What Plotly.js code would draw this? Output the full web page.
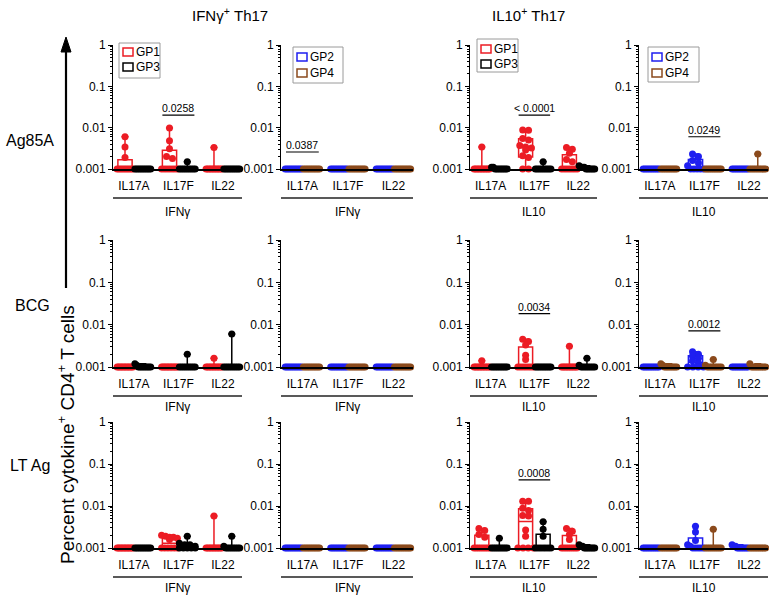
<!DOCTYPE html>
<html><head><meta charset="utf-8">
<script src="https://cdn.plot.ly/plotly-3.0.1.min.js"></script>
<style>html,body{margin:0;padding:0;background:#fff}#chart{width:769px;height:595px}</style>
</head><body><div id="chart"></div>
<script>
// ---------- DATA ----------
const categories = ['IL17A', 'IL17F', 'IL22'];
const stimuli = ['Ag85A', 'BCG', 'LT Ag'];
const columnTitles = ['IFNγ<sup>+</sup> Th17', 'IL10<sup>+</sup> Th17'];
const groupLabels = ['IFNγ', 'IFNγ', 'IL10', 'IL10'];
const yTickVals = [0.001, 0.01, 0.1, 1];
const yTickText = ['0.001', '0.01', '0.1', '1'];

// Ag85A
const ag85a_ifng_gp1 = [
  [0.006, 0.0034, 0.0019, 0.001, 0.001, 0.001, 0.001, 0.001, 0.001, 0.001, 0.001, 0.001],
  [0.0098, 0.0048, 0.0031, 0.002, 0.0018, 0.001, 0.001, 0.001, 0.001, 0.001, 0.001, 0.001],
  [0.0033, 0.001, 0.001, 0.001, 0.001, 0.001, 0.001, 0.001, 0.001, 0.001, 0.001, 0.001]
];
const ag85a_ifng_gp3 = [
  [0.001, 0.001, 0.001, 0.001, 0.001, 0.001, 0.001, 0.001, 0.001, 0.001],
  [0.0015, 0.001, 0.001, 0.001, 0.001, 0.001, 0.001, 0.001, 0.001, 0.001],
  [0.001, 0.001, 0.001, 0.001, 0.001, 0.001, 0.001, 0.001, 0.001, 0.001]
];
const ag85a_ifng_gp2 = [
  [0.001, 0.001, 0.001, 0.001, 0.001, 0.001, 0.001, 0.001, 0.001, 0.001],
  [0.001, 0.001, 0.001, 0.001, 0.001, 0.001, 0.001, 0.001, 0.001, 0.001],
  [0.001, 0.001, 0.001, 0.001, 0.001, 0.001, 0.001, 0.001, 0.001, 0.001]
];
const ag85a_ifng_gp4 = [
  [0.001, 0.001, 0.001, 0.001, 0.001, 0.001, 0.001, 0.001, 0.001, 0.001],
  [0.001, 0.001, 0.001, 0.001, 0.001, 0.001, 0.001, 0.001, 0.001, 0.001],
  [0.001, 0.001, 0.001, 0.001, 0.001, 0.001, 0.001, 0.001, 0.001, 0.001]
];
const ag85a_il10_gp1 = [
  [0.0034, 0.001, 0.001, 0.001, 0.001, 0.001, 0.001, 0.001, 0.001, 0.001, 0.001, 0.001],
  [0.0088, 0.0086, 0.0055, 0.005, 0.0037, 0.0034, 0.0032, 0.0029, 0.0021, 0.0019, 0.001, 0.001],
  [0.0033, 0.003, 0.0024, 0.0017, 0.0015, 0.001, 0.001, 0.001, 0.001, 0.001, 0.001, 0.001]
];
const ag85a_il10_gp3 = [
  [0.0011, 0.0011, 0.001, 0.001, 0.001, 0.001, 0.001, 0.001, 0.001, 0.001],
  [0.0015, 0.001, 0.001, 0.001, 0.001, 0.001, 0.001, 0.001, 0.001, 0.001],
  [0.0012, 0.0011, 0.0011, 0.0011, 0.001, 0.001, 0.001, 0.001, 0.001, 0.001]
];
const ag85a_il10_gp2 = [
  [0.001, 0.001, 0.001, 0.001, 0.001, 0.001, 0.001, 0.001, 0.001, 0.001],
  [0.0023, 0.002, 0.0016, 0.0014, 0.0012, 0.001, 0.001, 0.001, 0.001, 0.001],
  [0.001, 0.001, 0.001, 0.001, 0.001, 0.001, 0.001, 0.001, 0.001, 0.001]
];
const ag85a_il10_gp4 = [
  [0.001, 0.001, 0.001, 0.001, 0.001, 0.001, 0.001, 0.001, 0.001, 0.001],
  [0.001, 0.001, 0.001, 0.001, 0.001, 0.001, 0.001, 0.001, 0.001, 0.001],
  [0.0023, 0.001, 0.001, 0.001, 0.001, 0.001, 0.001, 0.001, 0.001, 0.001]
];

// BCG
const bcg_ifng_gp1 = [
  [0.001, 0.001, 0.001, 0.001, 0.001, 0.001, 0.001, 0.001, 0.001, 0.001, 0.001, 0.001],
  [0.001, 0.001, 0.001, 0.001, 0.001, 0.001, 0.001, 0.001, 0.001, 0.001, 0.001, 0.001],
  [0.0016, 0.001, 0.001, 0.001, 0.001, 0.001, 0.001, 0.001, 0.001, 0.001, 0.001, 0.001]
];
const bcg_ifng_gp3 = [
  [0.0012, 0.0011, 0.001, 0.001, 0.001, 0.001, 0.001, 0.001, 0.001, 0.001],
  [0.002, 0.001, 0.001, 0.001, 0.001, 0.001, 0.001, 0.001, 0.001, 0.001],
  [0.006, 0.001, 0.001, 0.001, 0.001, 0.001, 0.001, 0.001, 0.001, 0.001]
];
const bcg_ifng_gp2 = [
  [0.001, 0.001, 0.001, 0.001, 0.001, 0.001, 0.001, 0.001, 0.001, 0.001],
  [0.001, 0.001, 0.001, 0.001, 0.001, 0.001, 0.001, 0.001, 0.001, 0.001],
  [0.001, 0.001, 0.001, 0.001, 0.001, 0.001, 0.001, 0.001, 0.001, 0.001]
];
const bcg_ifng_gp4 = [
  [0.001, 0.001, 0.001, 0.001, 0.001, 0.001, 0.001, 0.001, 0.001, 0.001],
  [0.001, 0.001, 0.001, 0.001, 0.001, 0.001, 0.001, 0.001, 0.001, 0.001],
  [0.001, 0.001, 0.001, 0.001, 0.001, 0.001, 0.001, 0.001, 0.001, 0.001]
];
const bcg_il10_gp1 = [
  [0.0014, 0.001, 0.001, 0.001, 0.001, 0.001, 0.001, 0.001, 0.001, 0.001, 0.001, 0.001],
  [0.0045, 0.004, 0.0033, 0.0019, 0.0015, 0.001, 0.001, 0.001, 0.001, 0.001, 0.001, 0.001],
  [0.0031, 0.001, 0.001, 0.001, 0.001, 0.001, 0.001, 0.001, 0.001, 0.001, 0.001, 0.001]
];
const bcg_il10_gp3 = [
  [0.001, 0.001, 0.001, 0.001, 0.001, 0.001, 0.001, 0.001, 0.001, 0.001],
  [0.001, 0.001, 0.001, 0.001, 0.001, 0.001, 0.001, 0.001, 0.001, 0.001],
  [0.0016, 0.0011, 0.001, 0.001, 0.001, 0.001, 0.001, 0.001, 0.001, 0.001]
];
const bcg_il10_gp2 = [
  [0.001, 0.001, 0.001, 0.001, 0.001, 0.001, 0.001, 0.001, 0.001, 0.001],
  [0.0023, 0.002, 0.0018, 0.0016, 0.0014, 0.0012, 0.001, 0.001, 0.001, 0.001],
  [0.001, 0.001, 0.001, 0.001, 0.001, 0.001, 0.001, 0.001, 0.001, 0.001]
];
const bcg_il10_gp4 = [
  [0.0012, 0.0011, 0.001, 0.001, 0.001, 0.001, 0.001, 0.001, 0.001, 0.001],
  [0.0015, 0.0011, 0.001, 0.001, 0.001, 0.001, 0.001, 0.001, 0.001, 0.001],
  [0.0012, 0.001, 0.001, 0.001, 0.001, 0.001, 0.001, 0.001, 0.001, 0.001]
];

// LT Ag
const ltag_ifng_gp1 = [
  [0.001, 0.001, 0.001, 0.001, 0.001, 0.001, 0.001, 0.001, 0.001, 0.001, 0.001, 0.001],
  [0.002, 0.0019, 0.0018, 0.0018, 0.0017, 0.0016, 0.001, 0.001, 0.001, 0.001, 0.001, 0.001],
  [0.0058, 0.001, 0.001, 0.001, 0.001, 0.001, 0.001, 0.001, 0.001, 0.001, 0.001, 0.001]
];
const ltag_ifng_gp3 = [
  [0.001, 0.001, 0.001, 0.001, 0.001, 0.001, 0.001, 0.001, 0.001, 0.001],
  [0.0019, 0.0013, 0.0012, 0.0012, 0.0011, 0.001, 0.001, 0.001, 0.001, 0.001],
  [0.0019, 0.0011, 0.001, 0.001, 0.001, 0.001, 0.001, 0.001, 0.001, 0.001]
];
const ltag_ifng_gp2 = [
  [0.001, 0.001, 0.001, 0.001, 0.001, 0.001, 0.001, 0.001, 0.001, 0.001],
  [0.001, 0.001, 0.001, 0.001, 0.001, 0.001, 0.001, 0.001, 0.001, 0.001],
  [0.001, 0.001, 0.001, 0.001, 0.001, 0.001, 0.001, 0.001, 0.001, 0.001]
];
const ltag_ifng_gp4 = [
  [0.001, 0.001, 0.001, 0.001, 0.001, 0.001, 0.001, 0.001, 0.001, 0.001],
  [0.001, 0.001, 0.001, 0.001, 0.001, 0.001, 0.001, 0.001, 0.001, 0.001],
  [0.001, 0.001, 0.001, 0.001, 0.001, 0.001, 0.001, 0.001, 0.001, 0.001]
];
const ltag_il10_gp1 = [
  [0.0029, 0.0026, 0.0021, 0.0018, 0.001, 0.001, 0.001, 0.001, 0.001, 0.001, 0.001, 0.001],
  [0.013, 0.013, 0.0088, 0.0078, 0.0059, 0.0058, 0.0027, 0.0019, 0.001, 0.001, 0.001, 0.001],
  [0.0029, 0.0025, 0.0021, 0.0016, 0.001, 0.001, 0.001, 0.001, 0.001, 0.001, 0.001, 0.001]
];
const ltag_il10_gp3 = [
  [0.0017, 0.001, 0.001, 0.001, 0.001, 0.001, 0.001, 0.001, 0.001, 0.001],
  [0.0042, 0.0028, 0.0019, 0.001, 0.001, 0.001, 0.001, 0.001, 0.001, 0.001],
  [0.0012, 0.0011, 0.0011, 0.001, 0.001, 0.001, 0.001, 0.001, 0.001, 0.001]
];
const ltag_il10_gp2 = [
  [0.001, 0.001, 0.001, 0.001, 0.001, 0.001, 0.001, 0.001, 0.001, 0.001],
  [0.0033, 0.0024, 0.0015, 0.0012, 0.0011, 0.001, 0.001, 0.001, 0.001, 0.001],
  [0.0012, 0.0011, 0.0011, 0.001, 0.001, 0.001, 0.001, 0.001, 0.001, 0.001]
];
const ltag_il10_gp4 = [
  [0.001, 0.001, 0.001, 0.001, 0.001, 0.001, 0.001, 0.001, 0.001, 0.001],
  [0.0028, 0.001, 0.001, 0.001, 0.001, 0.001, 0.001, 0.001, 0.001, 0.001],
  [0.001, 0.001, 0.001, 0.001, 0.001, 0.001, 0.001, 0.001, 0.001, 0.001]
];

// significance comparisons
const sigRows = [0, 0, 0, 0, 1, 1, 2];
const sigCols = [0, 1, 2, 3, 2, 3, 2];
const sigCats = [1, 0, 1, 1, 1, 1, 1];
const sigText = ['0.0258', '0.0387', '< 0.0001', '0.0249', '0.0034', '0.0012', '0.0008'];
const sigLevel = [0.435, 0.137, 0.435, 0.26, 0.42, 0.285, 0.54];

// ---------- LAYOUT HELPERS ----------
const W = 769, H = 595;
const colPx = [[113, 242], [281, 413], [470, 597], [639, 768]];
const rowPx = [[45, 169], [240, 367], [422, 548]];
const labelDrop = [43, 40, 40];
// legend boxes (pixels): left, top, width, height, first item y, item gap
const legBox = [[119, 43, 41, 35, 52, 15], [293, 47, 50, 36, 57, 16], [477, 39, 41, 33, 49, 15], [648, 47, 51, 35, 57, 16]];
const colors = {GP1: '#ec1c24', GP3: '#000000', GP2: '#1f1ff0', GP4: '#8b4a1c'};
const groupPairs = [['GP1', 'GP3'], ['GP2', 'GP4'], ['GP1', 'GP3'], ['GP2', 'GP4']];
const panels = [
  [[ag85a_ifng_gp1, ag85a_ifng_gp3], [ag85a_ifng_gp2, ag85a_ifng_gp4], [ag85a_il10_gp1, ag85a_il10_gp3], [ag85a_il10_gp2, ag85a_il10_gp4]],
  [[bcg_ifng_gp1, bcg_ifng_gp3], [bcg_ifng_gp2, bcg_ifng_gp4], [bcg_il10_gp1, bcg_il10_gp3], [bcg_il10_gp2, bcg_il10_gp4]],
  [[ltag_ifng_gp1, ltag_ifng_gp3], [ltag_ifng_gp2, ltag_ifng_gp4], [ltag_il10_gp1, ltag_il10_gp3], [ltag_il10_gp2, ltag_il10_gp4]]
];
const FONT = '"Liberation Sans", Arial, sans-serif';
const OFFSET = 0.2, BOXW = 0.32;

function quant(sorted, p) {
  const n = sorted.length;
  const pos = (n + 1) * p;
  if (pos <= 1) return sorted[0];
  if (pos >= n) return sorted[n - 1];
  const lo = Math.floor(pos), fr = pos - lo;
  return sorted[lo - 1] + fr * (sorted[lo] - sorted[lo - 1]);
}
// deterministic swarm: points at similar heights share a row and spread sideways
function spread(vals, center) {
  const pxU = 45, pxD = 42;
  const idx = vals.map((v, i) => i).sort((a, b) => vals[b] - vals[a]);
  const rows = [];
  idx.forEach(i => {
    const y = Math.log10(vals[i]) * pxD;
    let r = rows.find(q => Math.abs(q.y - y) < 3.5);
    if (!r) { r = {y: y, items: []}; rows.push(r); }
    r.items.push(i);
  });
  const xs = new Array(vals.length);
  rows.forEach(r => {
    const k = r.items.length;
    const step = k > 1 ? Math.min(6, 16 / (k - 1)) : 0;
    r.items.forEach((i, j) => { xs[i] = center + ((j - (k - 1) / 2) * step) / pxU; });
  });
  return xs;
}
const px2x = p => p / W, px2y = p => 1 - p / H;

const traces = [];
const layout = {
  width: W, height: H, margin: {l: 0, r: 0, t: 0, b: 0},
  paper_bgcolor: '#fff', plot_bgcolor: 'rgba(0,0,0,0)',
  font: {family: FONT, size: 12, color: '#000'},
  showlegend: false, shapes: [], annotations: [], hovermode: false
};

for (let r = 0; r < 3; r++) {
  for (let c = 0; c < 4; c++) {
    const k = r * 4 + c + 1;
    const xa = 'x' + (k === 1 ? '' : k), ya = 'y' + (k === 1 ? '' : k);
    const xKey = 'xaxis' + (k === 1 ? '' : k), yKey = 'yaxis' + (k === 1 ? '' : k);
    layout[xKey] = {
      domain: [colPx[c][0] / W, colPx[c][1] / W], anchor: ya,
      range: [-0.47, 2.43], tickmode: 'array', tickvals: [0, 1, 2], ticktext: categories,
      showline: true, linecolor: '#000', linewidth: 1.5, ticks: 'outside', ticklen: 5,
      tickcolor: 'rgba(0,0,0,0)', showgrid: false, zeroline: false, fixedrange: true,
      tickfont: {size: 12, family: FONT}
    };
    const minorVals = [];
    [0.001, 0.01, 0.1].forEach(d => { for (let m = 2; m <= 9; m++) minorVals.push(d * m); });
    layout[yKey] = {
      domain: [1 - rowPx[r][1] / H, 1 - rowPx[r][0] / H], anchor: xa, type: 'log',
      range: [-3, 0], tickmode: 'array', tickvals: yTickVals, ticktext: yTickText,
      showline: true, linecolor: '#000', linewidth: 1, ticks: 'outside', ticklen: 4,
      tickwidth: 1, tickcolor: '#000', showgrid: false, zeroline: false, fixedrange: true,
      minor: {tickmode: 'array', tickvals: minorVals, ticks: 'outside', ticklen: 2, tickcolor: '#000', showgrid: false},
      tickfont: {size: 12, family: FONT}
    };
    const pair = panels[r][c];
    for (let g = 0; g < 2; g++) {
      const name = groupPairs[c][g];
      const col = colors[name];
      const data = pair[g];
      const pos = [0, 1, 2].map(i => i + (g === 0 ? -OFFSET : OFFSET));
      const sorted = data.map(a => a.slice().sort((p, q) => p - q));
      traces.push({
        type: 'box', xaxis: xa, yaxis: ya, name: name, x: pos,
        q1: sorted.map(s => quant(s, 0.25)), median: sorted.map(s => quant(s, 0.5)),
        q3: sorted.map(s => quant(s, 0.75)),
        lowerfence: sorted.map(s => s[0]), upperfence: sorted.map(s => s[s.length - 1]),
        width: BOXW, whiskerwidth: 0.5, boxpoints: false,
        line: {color: col, width: 1.5}, fillcolor: 'rgba(0,0,0,0)', hoverinfo: 'skip'
      });
      const px = [], py = [];
      data.forEach((vals, ci) => {
        const xs = spread(vals, pos[ci]);
        vals.forEach((v, j) => { px.push(xs[j]); py.push(v); });
      });
      traces.push({
        type: 'scatter', mode: 'markers', xaxis: xa, yaxis: ya, x: px, y: py,
        marker: {color: col, size: 7, line: {width: 0}}, cliponaxis: false,
        hoverinfo: 'skip', name: name
      });
    }
    // separator line and group label under tick labels
    const hPx = rowPx[r][1] - rowPx[r][0];
    layout.shapes.push({
      type: 'line', xref: xa + ' domain', yref: ya + ' domain', x0: 0, x1: 1,
      y0: -29 / hPx, y1: -29 / hPx, line: {color: '#222', width: 1.5}
    });
    layout.annotations.push({
      text: groupLabels[c], xref: xa + ' domain', yref: ya + ' domain', x: 0.5,
      y: -labelDrop[r] / hPx, xanchor: 'center', yanchor: 'middle', showarrow: false,
      font: {size: 12, family: FONT}
    });
    // legend (top row only), drawn as a framed key inside the panel
    if (r === 0) {
      const L = legBox[c];
      layout.shapes.push({
        type: 'rect', xref: 'paper', yref: 'paper', x0: px2x(L[0]), x1: px2x(L[0] + L[2]),
        y0: px2y(L[1]), y1: px2y(L[1] + L[3]), line: {color: '#9a9a9a', width: 1}, fillcolor: '#fff'
      });
      for (let g = 0; g < 2; g++) {
        const name = groupPairs[c][g];
        const yc = L[4] + g * L[5];
        layout.shapes.push({
          type: 'rect', xref: 'paper', yref: 'paper', x0: px2x(L[0] + 4), x1: px2x(L[0] + 14),
          y0: px2y(yc - 4), y1: px2y(yc + 4), line: {color: colors[name], width: 1.5}
        });
        layout.annotations.push({
          text: name, xref: 'paper', yref: 'paper', x: px2x(L[0] + 15), y: px2y(yc),
          xanchor: 'left', yanchor: 'middle', showarrow: false, font: {size: 12, family: FONT}
        });
      }
    }
  }
}

// significance bars
for (let s = 0; s < sigText.length; s++) {
  const k = sigRows[s] * 4 + sigCols[s] + 1;
  const xa = 'x' + (k === 1 ? '' : k), ya = 'y' + (k === 1 ? '' : k);
  const cx = sigCats[s];
  layout.shapes.push({
    type: 'line', xref: xa, yref: ya + ' domain', x0: cx - 0.36, x1: cx + 0.36,
    y0: sigLevel[s], y1: sigLevel[s], line: {color: '#000', width: 1.2}
  });
  layout.annotations.push({
    text: sigText[s], xref: xa, yref: ya + ' domain', x: cx, y: sigLevel[s],
    xanchor: 'center', yanchor: 'bottom', showarrow: false, yshift: -1,
    font: {size: 10.5, family: FONT}
  });
}

// column titles
[230, 528].forEach((xp, i) => {
  layout.annotations.push({
    text: columnTitles[i], xref: 'paper', yref: 'paper', x: px2x(xp), y: px2y(14),
    xanchor: 'center', yanchor: 'middle', showarrow: false, font: {size: 15, family: FONT}
  });
});
// row labels
[[30, 140], [32, 305], [30, 465]].forEach((p, i) => {
  layout.annotations.push({
    text: stimuli[i], xref: 'paper', yref: 'paper', x: px2x(p[0]), y: px2y(p[1]),
    xanchor: 'center', yanchor: 'middle', showarrow: false, font: {size: 16, family: FONT}
  });
});
// y axis title and arrow
layout.annotations.push({
  text: 'Percent cytokine<sup>+</sup> CD4<sup>+</sup> T cells', xref: 'paper', yref: 'paper',
  x: px2x(66), y: px2y(435), textangle: -90, xanchor: 'center', yanchor: 'middle',
  showarrow: false, font: {size: 19, family: FONT}
});
layout.shapes.push({
  type: 'line', xref: 'paper', yref: 'paper', x0: px2x(66), x1: px2x(66), y0: px2y(288), y1: px2y(48),
  line: {color: '#000', width: 2.2}
});
layout.shapes.push({
  type: 'path', xref: 'paper', yref: 'paper', fillcolor: '#000', line: {color: '#000', width: 1},
  path: 'M ' + px2x(61) + ' ' + px2y(52) + ' L ' + px2x(71) + ' ' + px2y(52) + ' L ' + px2x(66) + ' ' + px2y(37) + ' Z'
});

Plotly.newPlot('chart', traces, layout, {displayModeBar: false, staticPlot: true});
</script></body></html>
